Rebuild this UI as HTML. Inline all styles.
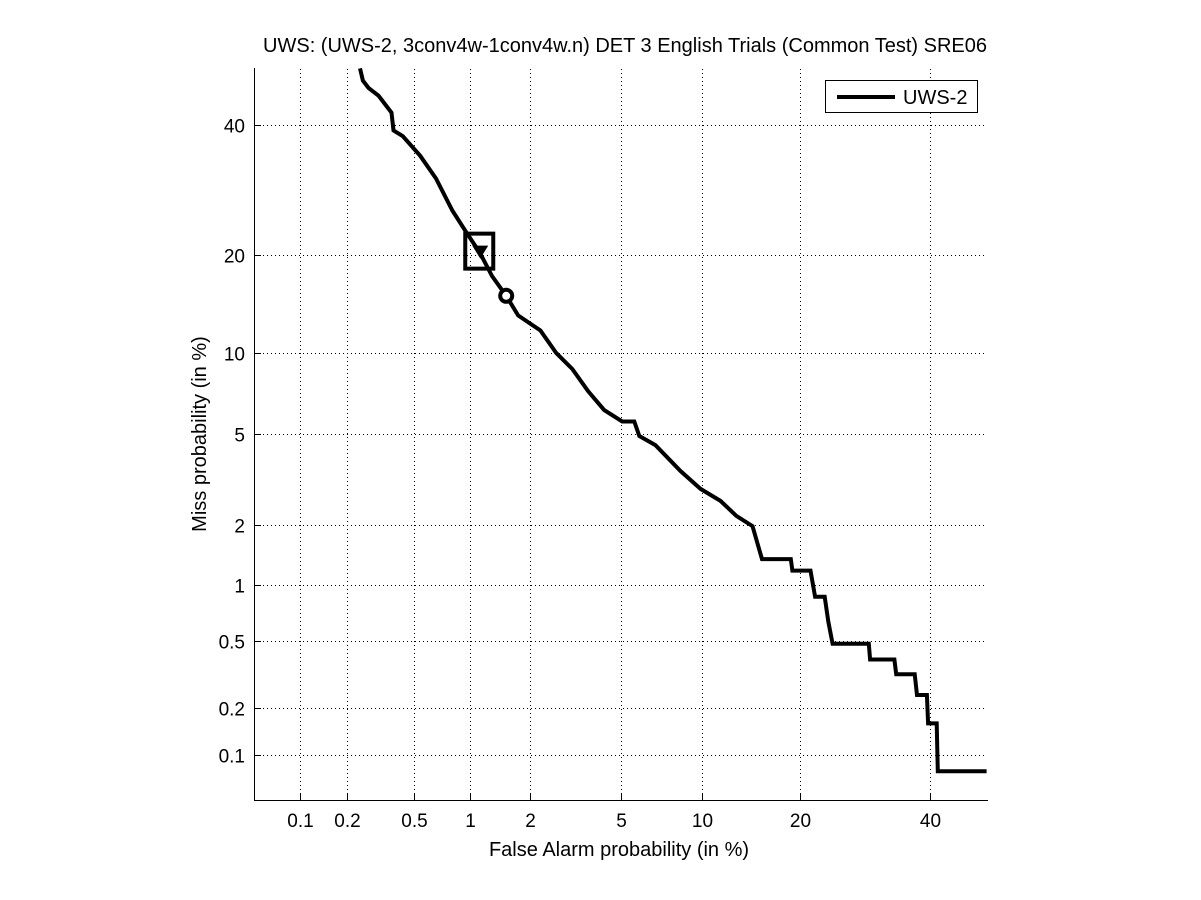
<!DOCTYPE html>
<html><head><meta charset="utf-8">
<style>
html,body{margin:0;padding:0;background:#fff;}
svg{display:block;font-family:"Liberation Sans",Arial,sans-serif;}
</style></head>
<body>
<svg id="chart" width="1201" height="900" viewBox="0 0 1201 900" xmlns="http://www.w3.org/2000/svg">
<text x="625" y="52" font-size="20" text-anchor="middle">UWS: (UWS-2, 3conv4w-1conv4w.n) DET 3 English Trials (Common Test) SRE06</text>
<text x="619" y="856" font-size="20" text-anchor="middle">False Alarm probability (in %)</text>
<text x="206" y="434" font-size="20" text-anchor="middle" transform="rotate(-90 206 434)">Miss probability (in %)</text>
<g id="grid"></g>
<g id="ticks"></g>
<line x1="254.5" y1="68" x2="254.5" y2="801" stroke="#000" stroke-width="1"/>
<line x1="254" y1="800.5" x2="988" y2="800.5" stroke="#000" stroke-width="1"/>
<g id="series"></g>
<g>
<rect x="825.5" y="80.5" width="152" height="32" fill="#fff" stroke="#000"/>
<line x1="837" y1="97" x2="895" y2="97" stroke="#000" stroke-width="4"/>
<text x="903" y="104" font-size="20">UWS-2</text>
</g>
</svg>
<script>
const xTicks = [0.1,0.2,0.5,1,2,5,10,20,40];
const yTicks = [0.1,0.2,0.5,1,2,5,10,20,40];
const faValues = [0.24,0.25,0.27,0.31,0.37,0.38,0.43,0.54,0.66,0.81,0.95,1.13,1.30,1.53,1.75,2.23,2.64,3.11,3.65,4.26,5.05,5.64,5.9,6.8,8.41,9.89,11.55,13.0,14.6,15.6,18.9,19.1,21.4,22.0,23.3,23.8,24.4,29.8,30.0,33.9,34.2,37.3,37.7,39.4,39.6,41.1,41.3,50];
const missValues = [50,47.8,46.5,45.1,42.1,39,38,34.7,31,26.1,23.2,20.3,17.5,15.3,13.3,11.9,10,8.8,7.3,6.2,5.6,5.6,4.9,4.5,3.5,2.92,2.58,2.2,1.97,1.36,1.36,1.19,1.19,0.87,0.87,0.64,0.48,0.48,0.39,0.39,0.32,0.32,0.24,0.24,0.16,0.16,0.078,0.078];
const actDcf = [1.12,20.6];
const minDcf = [1.53,15.3];

function probit(p){
  const a=[-3.969683028665376e+01,2.209460984245205e+02,-2.759285104469687e+02,1.383577518672690e+02,-3.066479806614716e+01,2.506628277459239e+00];
  const b=[-5.447609879822406e+01,1.615858368580409e+02,-1.556989798598866e+02,6.680131188771972e+01,-1.328068155288572e+01];
  const c=[-7.784894002430293e-03,-3.223964580411365e-01,-2.400758277161838e+00,-2.549732539343734e+00,4.374664141464968e+00,2.938163982698783e+00];
  const d=[7.784695709041462e-03,3.224671290700398e-01,2.445134137142996e+00,3.754408661907416e+00];
  const pl=0.02425;let q,r;
  if(p<pl){q=Math.sqrt(-2*Math.log(p));return (((((c[0]*q+c[1])*q+c[2])*q+c[3])*q+c[4])*q+c[5])/((((d[0]*q+d[1])*q+d[2])*q+d[3])*q+1);}
  if(p<=1-pl){q=p-0.5;r=q*q;return (((((a[0]*r+a[1])*r+a[2])*r+a[3])*r+a[4])*r+a[5])*q/(((((b[0]*r+b[1])*r+b[2])*r+b[3])*r+b[4])*r+1);}
  q=Math.sqrt(-2*Math.log(1-p));return -(((((c[0]*q+c[1])*q+c[2])*q+c[3])*q+c[4])*q+c[5])/((((d[0]*q+d[1])*q+d[2])*q+d[3])*q+1);
}
const S=222.2;
function xs(pct){return 300+(probit(pct/100)-probit(0.001))*S;}
function ys(pct){return 755-(probit(pct/100)-probit(0.001))*S;}
const NS="http://www.w3.org/2000/svg";
function mk(tag,attrs,parent){const e=document.createElementNS(NS,tag);for(const k in attrs)e.setAttribute(k,attrs[k]);parent.appendChild(e);return e;}
const grid=document.getElementById('grid'),ticks=document.getElementById('ticks'),series=document.getElementById('series');
xTicks.forEach(v=>{
  const x=Math.round(xs(v))+0.5;
  const l=mk('line',{x1:x,y1:69,x2:x,y2:800,stroke:'#000','stroke-width':1,'stroke-dasharray':'1,3'},grid);
  
  
  const tm=mk('line',{x1:x,y1:800,x2:x,y2:794,stroke:'#000','stroke-width':1},ticks);
  
  
  const t=mk('text',{x:x,y:827,'font-size':19,'text-anchor':'middle'},ticks);
  t.textContent=String(v);
  
  
});
yTicks.forEach(v=>{
  const y=Math.round(ys(v))+0.5;
  const l=mk('line',{x1:255,y1:y,x2:987,y2:y,stroke:'#000','stroke-width':1,'stroke-dasharray':'1,3'},grid);
  
  
  const tm=mk('line',{x1:255,y1:y,x2:261,y2:y,stroke:'#000','stroke-width':1},ticks);
  
  
  const t=mk('text',{x:245,y:y+7,'font-size':19,'text-anchor':'end'},ticks);
  t.textContent=String(v);
  
  
});
let d='';
faValues.forEach((f,i)=>{d+=(i?'L':'M')+xs(f).toFixed(1)+','+Math.max(68,ys(missValues[i])).toFixed(1);});
const p=mk('path',{d:d,fill:'none',stroke:'#000','stroke-width':4,'stroke-linejoin':'miter'},series);


const ax=xs(actDcf[0]),ay=ys(actDcf[1]);
const sq=mk('rect',{x:ax-14,y:ay-17,width:28,height:35,fill:'none',stroke:'#000','stroke-width':4},series);


const tr=mk('polygon',{points:`${ax-7},${ay-5} ${ax+9},${ay-5} ${ax+1},${ay+8}`,fill:'#000'},series);


const mx=xs(minDcf[0]),my=ys(minDcf[1]);
const c=mk('circle',{cx:mx,cy:my,r:6,fill:'#fff',stroke:'#000','stroke-width':4},series);


</script>
</body></html>
